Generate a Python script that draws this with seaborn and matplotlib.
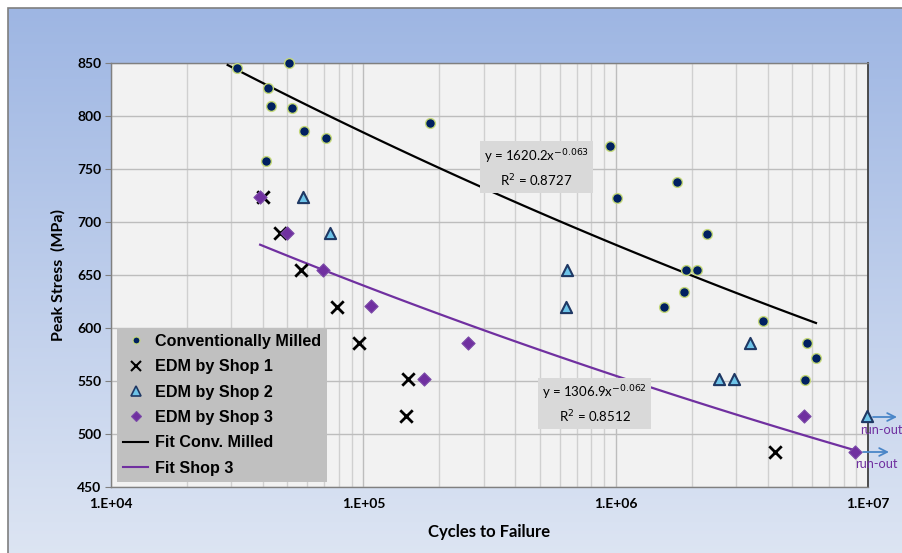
import numpy as np
import pandas as pd
import matplotlib
matplotlib.use("Agg")
import matplotlib.pyplot as plt
import seaborn as sns
from matplotlib.lines import Line2D
from matplotlib.patches import Rectangle

# ---------------- data ----------------
conv_cycles = [31600, 50800, 42000, 43200, 52300, 58300, 71300, 41200, 184500, 946000,
               1010000, 1750000, 2300000, 1900000, 2100000, 1860000, 1560000, 3830000,
               5730000, 6220000, 5630000]
conv_stress = [845, 850, 826, 809, 808, 786, 779, 758, 793, 772,
               723, 738, 689, 655, 655, 634, 620, 607, 586, 572, 551]

shop1_cycles = [40100, 46900, 56800, 78900, 96400, 151000, 148000, 4270000]
shop1_stress = [724, 690, 655, 620, 586, 552, 517, 483]

shop2_cycles = [57800, 74000, 640000, 635000, 3400000, 2560000, 2940000, 9950000]
shop2_stress = [724, 690, 655, 620, 586, 552, 552, 517]

shop3_cycles = [39000, 49900, 69300, 107700, 261000, 174500, 5600000, 8870000]
shop3_stress = [724, 690, 655, 621, 586, 552, 517, 483]

fit_conv_coef = [1620.2, -0.063]
fit_conv_range = [29000, 6220000]
fit_s3_coef = [1306.9, -0.062]
fit_s3_range = [39000, 8870000]

x_ticks = [1e4, 1e5, 1e6, 1e7]
x_tick_labels = ["1.E+04", "1.E+05", "1.E+06", "1.E+07"]
y_ticks = [450, 500, 550, 600, 650, 700, 750, 800, 850]

# ---------------- figure ----------------
W, H = 903, 553
fig = plt.figure(figsize=(W / 100, H / 100), dpi=100)
fig.patch.set_facecolor("white")

# gradient background
bg = fig.add_axes([0, 0, 1, 1], zorder=-10)
top = np.array([0x9e, 0xb6, 0xe3]) / 255
bot = np.array([0xdd, 0xe5, 0xf3]) / 255
t = np.linspace(0, 1, 256)[:, None]
grad = top[None, :] * (1 - t) + bot[None, :] * t
grad = np.repeat(grad[:, None, :], 2, axis=1)
x0 = 8 / W
y1 = 1 - 8 / H
bg.imshow(grad, extent=[x0, 1.01, -0.01, y1], aspect="auto", origin="upper")
bg.add_patch(Rectangle((x0, -0.05), 1.2, y1 + 0.05, fill=False, edgecolor="#7f7f7f", lw=1.2))
bg.set_xlim(0, 1)
bg.set_ylim(0, 1)
bg.axis("off")

ax = fig.add_axes([111 / W, 1 - 487 / H, (868 - 111) / W, (487 - 63) / H])
ax.set_facecolor("#f2f2f2")
ax.set_xscale("log")
ax.set_xlim(1e4, 1e7)
ax.set_ylim(450, 850)

df_conv = pd.DataFrame({"x": conv_cycles, "y": conv_stress})
df_s1 = pd.DataFrame({"x": shop1_cycles, "y": shop1_stress})
df_s2 = pd.DataFrame({"x": shop2_cycles, "y": shop2_stress})
df_s3 = pd.DataFrame({"x": shop3_cycles, "y": shop3_stress})

def fit_df(coef, rng):
    xs = np.logspace(np.log10(rng[0]), np.log10(rng[1]), 100)
    return pd.DataFrame({"x": xs, "y": coef[0] * xs ** coef[1]})

sns.lineplot(data=fit_df(fit_conv_coef, fit_conv_range), x="x", y="y", ax=ax,
             color="black", lw=1.6, zorder=3)
sns.lineplot(data=fit_df(fit_s3_coef, fit_s3_range), x="x", y="y", ax=ax,
             color="#7030a0", lw=1.6, zorder=3)

sns.scatterplot(data=df_conv, x="x", y="y", ax=ax, marker="o", s=50,
                color="#002060", edgecolor="#c4d879", linewidth=1.0, zorder=5, clip_on=False)
sns.scatterplot(data=df_s1, x="x", y="y", ax=ax, marker="x", s=80,
                color="black", linewidth=2.0, zorder=5)
sns.scatterplot(data=df_s2, x="x", y="y", ax=ax, marker="^", s=65,
                color="#6dc3e8", edgecolor="#1f3864", linewidth=1.5, zorder=5, clip_on=False)
sns.scatterplot(data=df_s3, x="x", y="y", ax=ax, marker="D", s=45,
                color="#7030a0", edgecolor="#7b4aa8", linewidth=0.8, zorder=6, clip_on=False)

# grid
ax.set_xticks(x_ticks)
ax.set_xticklabels(x_tick_labels)
ax.set_yticks(y_ticks)
ax.grid(True, which="major", color="#bdbdbd", lw=1.0, zorder=0)
ax.grid(True, which="minor", axis="x", color="#d0d0d0", lw=1.0, zorder=0)
ax.set_axisbelow(True)
ax.tick_params(axis="x", which="both", length=0, pad=8)
ax.tick_params(axis="y", which="major", length=4, color="#7f7f7f", pad=3)
for lab in ax.get_xticklabels() + ax.get_yticklabels():
    lab.set_fontfamily("Lato")
    lab.set_fontweight("bold")
    lab.set_fontsize(10)
for side in ["left", "bottom", "top"]:
    ax.spines[side].set_color("#808080")
    ax.spines[side].set_linewidth(1.0)
ax.spines["right"].set_color("#404040")
ax.spines["right"].set_linewidth(1.3)

ax.set_xlabel("Cycles to Failure", fontfamily="Lato", fontweight="bold", fontsize=12, labelpad=10)
ax.set_ylabel("Peak Stress  (MPa)", fontfamily="Lato", fontweight="bold", fontsize=11.5, labelpad=8)

# equation boxes
box = dict(boxstyle="square,pad=0.3", facecolor="#d9d9d9", edgecolor="none")
ax.text(486000, 751, "y = 1620.2x$^{-0.063}$\nR$^2$ = 0.8727", ha="center", va="center",
        fontsize=9.5, fontfamily="Lato", linespacing=1.45, bbox=box, zorder=7)
ax.text(826000, 528, "y = 1306.9x$^{-0.062}$\nR$^2$ = 0.8512", ha="center", va="center",
        fontsize=9.5, fontfamily="Lato", linespacing=1.45, bbox=box, zorder=7)

# run-out annotations
def axfx(px):
    return (px - 111) / (868 - 111)

def axfy(py):
    return (487 - py) / (487 - 63)

for (xs, xe, yy, tx, ty) in [(873, 897, 417, 881, 430), (863, 889, 452, 876, 464)]:
    ax.annotate("", xy=(axfx(xe), axfy(yy)), xytext=(axfx(xs), axfy(yy)),
                xycoords="axes fraction", textcoords="axes fraction",
                arrowprops=dict(arrowstyle="->", color="#4a86c8", lw=1.3,
                                shrinkA=0, shrinkB=0, mutation_scale=14),
                annotation_clip=False)
    ax.text(axfx(tx), axfy(ty), "run-out", transform=ax.transAxes, ha="center", va="center",
            color="#7030a0", fontsize=9.2, fontfamily="Lato", clip_on=False)

# legend
handles = [
    Line2D([], [], ls="none", marker="o", ms=5, mfc="#002060", mec="#c4d879", mew=0.8),
    Line2D([], [], ls="none", marker="x", ms=7, color="black", mew=1.5),
    Line2D([], [], ls="none", marker="^", ms=7, mfc="#6dc3e8", mec="#1f3864", mew=1.2),
    Line2D([], [], ls="none", marker="D", ms=5, mfc="#7030a0", mec="#7b4aa8", mew=0.8),
    Line2D([], [], color="black", lw=1.5),
    Line2D([], [], color="#7030a0", lw=1.5),
]
labels = ["Conventionally Milled", "EDM by Shop 1", "EDM by Shop 2", "EDM by Shop 3",
          "Fit Conv. Milled", "Fit Shop 3"]
leg = ax.legend(handles, labels, loc="lower left", bbox_to_anchor=(6 / 757, 5 / 424),
                prop=dict(family="Liberation Sans", weight="bold", size=11.6),
                frameon=True, fancybox=False, facecolor="#c0c0c0", edgecolor="none",
                framealpha=1.0, handlelength=1.55, handletextpad=0.4, labelspacing=0.64,
                borderpad=0.4, borderaxespad=0)
leg.set_zorder(10)

fig.savefig("out.png", dpi=100)
